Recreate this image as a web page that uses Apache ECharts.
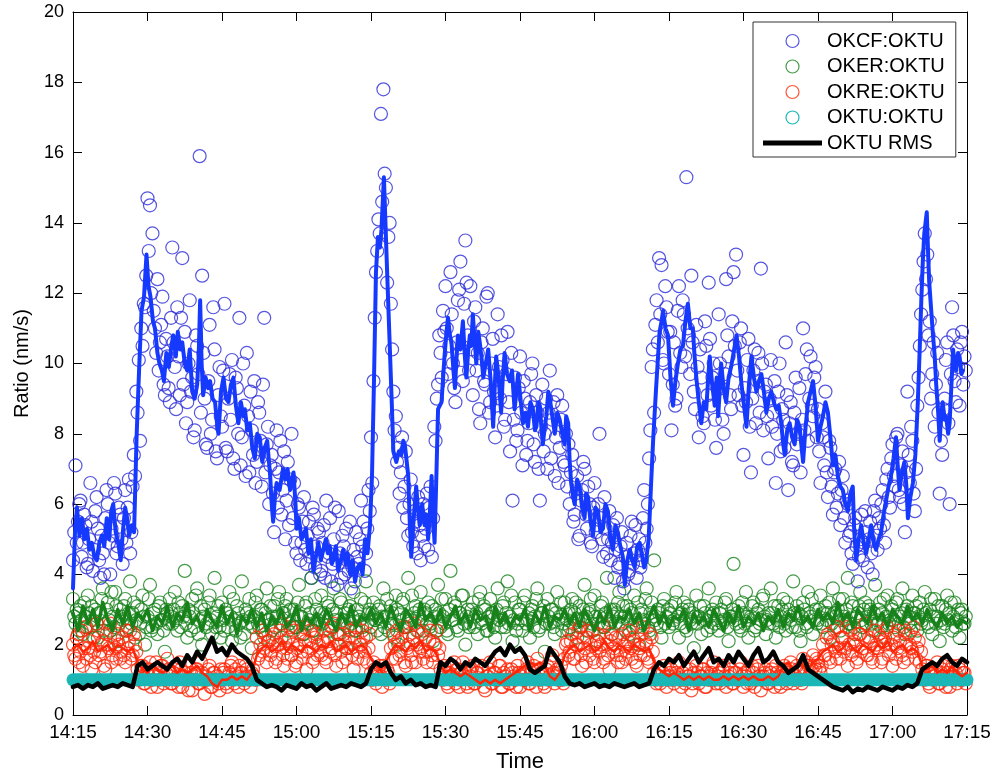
<!DOCTYPE html>
<html>
<head>
<meta charset="utf-8">
<title>OKTU ratios</title>
<script src="https://cdn.jsdelivr.net/npm/echarts@6/dist/echarts.min.js"></script>
<style>
  html, body { margin: 0; padding: 0; background: #fff; }
  #chart { width: 990px; height: 778px; }
</style>
</head>
<body>
<div id="chart"></div>
<script>
// x values are minutes after 14:15; circle samples come in rows of 10 minutes each
var ROW_MINUTES = 10;
var xTickLabels = ['14:15', '14:30', '14:45', '15:00', '15:15', '15:30', '15:45', '16:00', '16:15', '16:30', '16:45', '17:00', '17:15'];

// OKCF:OKTU ratio samples (one row per 10 minutes)
var okcfRatio = [
  [4.4,5.2,7.1,4.9,5.5,6.0,6.1,4.5,4.9,5.7,5.4,4.2,4.3,5.0,6.6,5.5,4.1,4.7,5.8,6.2,5.3,4.4,3.9,5.1,4.6,4.0,5.6,6.4,6.0,4.9,4.0,5.3,5.1,6.6,6.3,4.6,4.8,5.9,5.7,5.0],
  [4.3,5.6,6.4,4.9,5.9,6.7,4.6,5.2,6.5,7.4,6.8,9.2,8.6,10.1,7.8,11.0,10.5,11.7,11.6,12.5,14.7,13.2,14.5,12.0,13.7,11.5,11.0,10.3,12.4,9.8,10.6,11.1,11.9,9.4,9.1,10.7,10.2,9.3,8.9,11.3],
  [13.3,10.6,9.9,8.7,11.6,10.2,9.1,11.3,13.0,9.4,10.9,8.3,8.9,10.0,11.8,9.2,9.6,7.9,8.1,10.8,10.5,9.7,15.9,8.6,12.5,10.3,9.0,7.7,7.6,9.5,11.1,8.0,8.4,11.6,10.4,7.5,7.3,9.1,9.9,8.5],
  [8.2,9.8,11.7,7.6,7.5,9.0,9.7,8.4,10.1,7.3,7.0,9.6,9.3,8.0,11.3,7.1,7.9,10.0,8.8,6.8,10.3,8.5,6.9,9.2,8.1,7.4,9.5,6.6,7.2,8.9,8.6,7.8,6.5,9.4,11.3,6.9,7.7,8.2,6.0,7.1],
  [7.4,6.3,5.2,7.0,8.1,5.9,6.9,7.8,5.7,6.4,7.5,5.0,6.1,7.2,5.4,6.7,8.0,5.6,6.6,4.9,4.6,6.0,5.9,4.4,4.9,5.5,6.2,4.7,4.3,5.1,5.5,4.5,3.9,5.9,5.7,4.2,4.8,5.3,5.2,4.0],
  [4.1,4.9,5.4,3.9,6.1,4.5,4.6,5.6,3.8,4.3,5.0,5.9,4.4,3.7,5.8,4.6,3.9,5.1,4.8,4.0,5.3,4.4,4.1,5.5,3.6,4.2,4.7,3.8,5.2,4.5,4.3,5.0,6.1,4.8,5.5,4.1,4.6,5.3,6.4,5.8],
  [7.9,6.6,9.5,11.3,12.6,13.2,14.1,13.7,17.1,14.6,17.8,15.4,15.0,12.3,13.6,14.0,11.7,10.4,9.2,8.1,8.5,7.2,7.6,6.3,6.9,7.9,5.9,6.5,7.5,5.6,5.1,6.0,6.7,5.2,4.8,5.8,5.5,4.6,6.2,5.4],
  [4.4,5.1,6.0,4.8,5.3,6.3,4.7,5.9,6.5,4.5,5.6,8.2,7.8,9.0,9.4,10.8,10.3,9.6,11.5,10.9,12.2,11.0,9.7,10.5,12.6,11.4,10.0,9.3,8.9,10.6,11.8,12.1,12.9,10.1,9.5,11.7,13.5,12.3,10.8,9.8],
  [12.2,10.4,9.1,11.2,11.6,9.8,10.3,8.7,8.3,10.6,11.0,9.5,9.4,11.9,12.0,8.6,8.9,10.0,10.7,9.2,7.9,8.8,11.4,9.9,9.0,10.8,10.1,8.2,8.4,9.7,10.9,8.9,7.5,10.3,6.1,8.4,9.6,7.8,8.1,9.3],
  [10.2,8.6,7.1,9.5,9.0,7.4,7.8,8.3,8.9,9.7,10.0,7.7,7.2,9.1,8.6,7.0,6.1,8.2,9.4,7.5,8.0,9.0,7.0,8.6,9.8,7.3,8.4,8.9,6.8,7.9,9.1,6.6,7.6,8.4,8.8,7.2,7.1,8.0,6.5,7.7],
  [6.0,6.9,7.4,5.5,5.7,6.3,6.8,5.0,5.1,6.1,6.4,7.2,7.0,5.7,5.3,6.5,6.0,4.9,4.8,5.9,6.6,5.2,5.4,6.0,8.0,5.6,5.0,4.5,6.2,5.3,4.6,5.0,5.8,4.4,4.9,5.4,3.9,4.7,5.6,4.2],
  [4.3,4.8,5.2,3.8,3.6,4.5,4.9,4.0,4.1,5.1,5.5,4.3,4.6,5.4,3.9,4.7,5.0,4.2,4.4,5.6,6.4,4.9,5.3,6.0,7.3,8.1,9.9,10.4,8.6,11.1,11.8,10.6,13.0,11.4,12.8,10.1,10.0,12.2,11.6,10.9],
  [9.7,10.9,8.1,9.4,10.6,8.8,9.0,11.5,12.2,10.3,9.9,11.8,11.4,10.2,15.3,11.0,10.8,9.7,12.5,10.6,9.2,8.7,11.1,9.9,7.9,10.4,9.6,8.5,8.3,11.2,10.5,9.1,12.3,10.7,8.8,9.6,10.0,8.4,7.6,9.3],
  [11.4,10.0,9.3,8.4,8.0,9.7,12.4,10.8,10.2,9.1,8.7,11.2,12.6,10.5,13.1,9.8,9.1,10.6,11.0,8.8,7.4,9.3,8.9,10.1,10.7,8.2,6.9,9.0,9.8,10.4,8.3,9.5,10.3,8.6,12.7,10.0,8.1,9.2,9.4,8.5],
  [7.3,9.0,10.1,8.2,8.6,9.5,6.6,8.0,9.2,10.0,7.5,8.7,8.4,7.6,10.6,9.1,6.4,8.3,8.9,7.2,7.1,8.6,9.6,7.7,8.0,9.3,6.9,8.4,11.0,8.1,9.7,10.4,7.8,9.0,10.2,8.8,8.5,9.6,9.9,7.9],
  [8.7,7.5,6.6,8.3,7.9,7.1,9.2,6.9,6.2,7.8,7.6,6.5,5.7,6.9,7.0,5.9,6.3,7.2,5.4,6.4,6.8,5.6,4.9,6.1,6.0,5.1,5.2,4.6,4.3,5.4,5.6,4.8,3.8,4.5,5.0,5.7,4.4,4.9,5.8,5.2],
  [4.2,5.0,5.5,4.6,4.0,5.8,6.1,5.1,4.7,5.6,5.3,6.0,6.4,5.4,4.9,6.7,7.0,6.2,5.9,7.3,7.7,6.8,6.5,7.9,8.0,6.4,6.2,7.1,7.5,6.0,5.2,6.9,9.2,7.4,6.6,8.2,7.8,6.3,5.8,7.0],
  [8.8,9.6,10.5,11.4,12.1,12.9,13.7,12.4,13.1,10.8,11.2,9.0,9.7,10.6,8.2,9.4,10.3,8.6,6.3,7.8,7.4,8.7,9.0,10.1,10.6,8.3,6.0,9.7,11.6,10.8,9.5,8.9,10.4,9.9,8.8,10.6,10.9,9.4,10.2,9.8]
];

// OKER:OKTU ratio samples
var okerRatio = [
  [3.3,2.8,2.6,3.0,2.9,2.4,3.1,2.7,2.3,3.2,2.8,2.5,3.4,2.9,2.5,3.1,2.7,2.2,3.0,2.6,2.2,2.9,2.9,3.3,3.6,2.4,2.6,3.0,3.2,2.7,2.4,3.5,2.8,2.5,3.5,3.1,2.1,2.6,3.0,2.8],
  [2.7,3.1,3.3,2.4,2.5,2.9,3.8,2.6,2.9,3.2,2.2,2.7,3.1,2.3,2.6,3.0,3.4,2.8,2.0,2.5,2.8,3.3,3.7,2.4,2.5,2.9,3.0,2.6,2.3,3.1,3.2,2.7,2.7,2.4,1.8,3.0,2.9,2.6,3.3,2.8],
  [2.6,3.0,3.5,2.7,2.4,3.2,2.9,2.5,3.1,2.8,4.1,2.6,2.2,3.0,2.8,2.4,3.3,2.9,2.5,3.4,3.6,2.3,2.7,3.1,2.0,2.8,3.0,2.5,2.6,3.2,3.4,2.7,2.3,2.9,3.9,2.5,2.8,3.1,2.5,2.2],
  [3.2,2.7,2.4,3.0,2.9,2.5,3.5,2.8,2.1,3.3,2.7,2.4,3.1,2.9,2.6,2.2,3.8,2.7,2.3,3.0,2.9,2.6,3.3,2.8,1.9,2.5,2.8,3.2,3.4,2.6,2.5,3.0,3.0,2.4,2.2,2.9,3.6,2.7,2.7,3.1],
  [2.4,2.8,3.1,2.5,2.8,3.3,3.5,2.6,2.2,2.9,2.9,3.1,3.3,2.4,2.6,3.0,1.7,2.7,3.0,2.5,2.5,3.2,3.7,2.8,2.8,2.3,2.3,3.1,3.2,2.6,2.7,2.9,3.9,2.4,2.4,3.3,3.0,2.7,2.6,2.9],
  [3.4,2.6,2.1,2.9,2.8,3.2,3.1,2.4,2.5,3.0,3.6,2.7,2.9,2.3,2.3,3.3,3.2,2.6,2.7,2.9,1.9,2.5,3.0,3.1,2.6,2.8,3.5,2.4,2.4,3.0,2.8,2.7,3.3,2.5,2.2,3.2,3.8,2.6,2.9,3.0],
  [2.5,2.9,3.2,2.7,2.7,2.4,3.0,3.1,2.3,2.8,3.6,2.5,2.8,3.3,2.4,2.6,3.1,2.9,2.6,2.2,3.4,3.0,2.0,2.7,2.9,3.2,3.3,2.5,2.5,2.8,3.9,2.6,2.7,3.4,2.2,2.9,3.1,2.4,2.8,3.0],
  [3.5,2.7,2.4,3.0,2.9,2.6,3.2,2.5,2.6,3.1,2.1,2.8,3.0,2.4,3.7,2.9,2.5,3.3,2.8,2.6,3.3,2.4,2.3,3.0,4.1,2.7,2.7,3.2,3.1,2.5,2.4,2.9,2.9,3.4,3.4,2.6,2.0,2.8,3.0,2.5],
  [2.6,3.0,3.2,2.5,2.8,2.9,2.3,3.3,3.5,2.6,2.7,3.1,3.0,2.4,2.4,2.8,3.3,2.9,2.9,2.5,2.2,3.0,3.6,2.7,2.7,2.5,3.1,3.2,2.5,2.9,3.8,2.6,2.8,3.4,2.1,2.7,3.2,2.4,2.6,3.0],
  [3.0,2.7,2.4,3.2,3.4,2.6,2.7,2.9,2.2,3.0,3.1,2.5,2.8,3.3,3.6,2.4,2.5,2.9,2.9,3.1,1.8,2.6,3.3,2.8,2.6,3.0,3.0,2.5,2.3,2.9,3.5,2.7,2.8,3.2,2.4,2.6,3.2,2.9,2.7,2.4],
  [2.5,3.0,3.3,2.6,2.9,3.2,2.2,2.7,3.1,2.5,2.7,3.0,3.7,2.8,2.4,2.9,3.0,3.3,2.6,2.4,3.4,2.8,2.1,2.6,2.8,3.1,3.2,2.5,2.5,2.9,3.9,2.6,2.7,3.0,2.3,2.8,3.0,2.6,2.9,3.2],
  [3.5,2.8,2.6,3.1,2.8,2.4,3.1,2.7,2.3,3.0,2.9,2.5,3.4,2.7,2.5,3.2,2.0,2.9,3.0,2.6,2.7,3.3,3.6,2.5,2.4,2.9,3.2,2.8,4.4,2.7,2.6,3.0,2.9,2.5,2.2,3.1,3.3,2.6,2.8,3.0],
  [2.5,2.9,3.1,2.6,2.7,3.2,3.5,2.8,2.2,2.6,2.9,3.0,3.2,2.5,2.4,3.1,3.0,2.7,2.6,2.9,1.9,2.8,3.4,2.6,2.8,3.1,2.3,2.7,3.1,2.9,2.7,2.4,3.6,2.8,2.5,3.0,2.9,2.6,3.2,2.7],
  [2.4,2.9,3.0,2.6,2.7,3.2,3.3,2.5,2.1,2.8,2.8,3.0,4.3,2.7,2.6,2.9,3.1,2.5,2.4,3.2,2.9,2.6,3.5,2.8,2.2,2.7,2.8,3.1,3.2,2.4,2.5,2.9,3.0,2.6,2.7,3.3,3.4,2.8,2.3,2.7],
  [2.9,2.6,3.6,2.9,2.6,3.1,2.2,2.7,3.1,2.5,2.8,3.0,3.3,2.6,2.4,3.2,3.0,2.8,2.7,2.5,3.8,2.9,2.5,3.1,2.9,2.4,2.1,2.8,3.2,3.0,2.6,2.5,3.5,2.9,2.8,3.3,2.3,2.7,3.0,2.6],
  [2.7,3.0,3.4,2.6,2.5,2.9,3.1,2.7,2.9,3.2,2.2,2.6,3.6,2.9,2.8,2.5,3.0,3.3,2.4,2.7,3.3,2.8,2.7,3.0,3.9,2.6,2.6,3.2,3.1,2.5,2.3,2.8,2.9,3.1,3.5,2.7,2.5,3.0,3.2,2.6],
  [2.8,3.1,3.0,2.6,2.4,2.9,3.7,2.7,2.6,3.0,3.2,2.5,2.9,3.3,2.2,2.8,3.4,2.6,2.7,3.1,3.0,2.7,2.5,3.2,3.3,2.6,2.8,2.9,3.6,2.5,2.3,3.0,3.1,2.8,2.6,2.4,3.4,2.9,2.9,3.1],
  [2.4,2.8,3.2,2.6,2.7,3.0,3.5,2.9,2.6,2.5,3.0,3.3,2.3,2.8,3.3,2.6,2.8,3.1,2.1,2.7,3.1,2.5,2.6,3.0,3.4,2.7,2.9,3.2,2.4,2.8,3.2,2.5,2.7,3.0,2.2,2.9,3.0,2.6,2.6,2.8]
];

// OKRE:OKTU ratio samples
var okreRatio = [
  [2.0,1.7,1.6,2.2,2.3,1.5,1.8,2.4,1.4,1.9,2.5,1.6,1.9,2.1,1.7,1.3,2.2,1.8,1.5,2.6,2.4,1.7,1.8,2.0,2.1,1.4,1.3,2.3,2.0,1.9,2.6,1.5,1.7,2.2,1.9,1.6,2.3,2.0,1.6,1.8],
  [2.2,1.7,1.5,2.4,1.9,2.1,2.4,1.6,1.7,2.3,2.0,1.8,1.3,1.0,1.1,1.4,1.4,0.9,0.9,1.2,1.2,1.3,1.5,0.8,1.0,1.1,1.3,1.5,0.8,1.0,1.2,1.4,1.4,0.9,1.0,1.2,1.6,1.3,1.1,0.9],
  [0.9,1.2,1.3,1.0,1.1,0.8,1.5,1.3,0.8,1.1,1.2,1.4,1.0,0.7,1.4,1.2,0.7,1.0,1.1,1.3,1.3,0.9,0.9,1.5,1.2,1.0,0.6,1.1,1.0,1.3,1.4,0.8,0.8,1.2,1.2,1.0,1.1,0.9,0.7,1.3],
  [1.0,1.2,1.3,0.9,0.8,1.1,1.2,1.4,1.5,1.0,0.9,1.3,1.1,0.8,1.4,1.2,1.2,1.0,0.9,1.4,1.3,1.1,1.0,0.8,1.2,1.3,1.1,1.0,2.2,1.6,1.7,2.0,2.4,1.8,1.9,2.3,1.5,2.1,2.1,1.7],
  [1.8,2.2,2.3,1.5,1.6,2.0,2.0,2.4,2.6,1.7,1.4,2.1,1.9,1.6,2.2,2.5,1.7,2.0,2.4,1.4,1.5,1.9,2.0,2.3,1.8,1.6,2.5,2.1,1.3,1.8,2.1,2.4,1.9,1.5,1.6,2.2,2.3,1.7,2.0,1.8],
  [1.7,2.1,2.4,1.6,1.5,2.2,2.1,1.8,1.9,2.5,2.6,1.7,1.4,2.0,2.0,2.3,1.8,1.5,2.3,2.1,1.6,1.9,2.2,2.4,1.9,1.7,1.3,2.2,2.5,1.6,1.8,2.0,2.0,2.4,1.6,1.8,2.2,1.5,1.9,2.3],
  [1.2,1.0,1.5,1.3,0.9,1.1,1.3,1.4,1.1,0.8,1.4,1.2,1.0,1.3,1.2,0.9,1.9,1.6,2.3,2.0,1.6,2.4,2.1,1.7,1.8,2.2,2.5,1.5,1.4,1.9,2.0,2.3,1.7,1.5,2.2,2.6,1.5,2.0,2.4,1.8],
  [1.9,2.3,1.6,1.8,2.2,1.5,1.8,2.1,2.4,1.7,1.5,2.0,2.0,2.4,1.7,1.9,1.3,1.1,1.0,1.4,1.2,0.9,0.8,1.2,1.4,1.0,1.1,1.5,0.9,1.3,1.3,0.8,1.0,1.2,1.5,1.1,1.2,0.9,0.8,1.3],
  [1.1,1.3,1.4,0.9,0.9,1.2,1.2,1.0,1.0,1.4,1.3,0.8,0.7,1.1,1.1,1.3,1.5,0.9,0.9,1.2,1.2,1.0,1.0,1.4,1.4,0.8,0.8,1.2,1.1,1.0,1.3,0.9,0.9,1.3,1.2,1.1,1.0,0.8,1.4,1.2],
  [0.8,1.1,1.2,1.0,1.0,1.3,1.5,0.9,0.9,1.2,1.3,1.4,1.1,0.8,1.6,1.3,1.0,1.2,1.2,0.9,0.8,1.3,1.4,1.0,1.1,1.5,1.7,1.2,0.9,1.1,1.3,1.0,1.2,1.4,1.0,0.9,1.6,2.0,2.1,1.7],
  [1.8,2.1,2.3,1.6,1.6,2.0,2.0,2.4,2.5,1.7,1.4,2.2,1.9,1.5,2.2,2.4,1.7,2.0,2.4,1.6,1.5,1.9,2.1,2.3,1.8,2.0,2.6,1.5,1.6,2.2,2.0,1.7,1.3,2.1,2.3,1.8,1.9,2.2,1.7,1.5],
  [2.2,1.7,1.5,2.3,2.0,1.6,1.8,2.1,2.4,1.9,1.6,2.2,2.1,1.5,1.4,2.0,1.9,1.7,2.3,2.5,1.7,2.1,2.0,1.6,1.5,2.3,2.2,1.8,1.2,1.0,0.9,1.3,1.3,0.9,1.0,1.2,1.4,1.1,0.8,1.0],
  [1.1,1.2,1.3,1.0,0.9,1.1,1.2,1.4,1.5,1.0,0.8,1.2,1.0,0.9,1.3,1.1,1.1,1.3,0.7,0.9,1.2,1.0,1.4,1.2,0.9,1.1,1.1,1.3,1.3,0.8,0.8,1.2,1.0,1.1,1.2,1.4,1.5,1.0,0.9,1.1],
  [1.2,0.9,1.0,1.3,1.4,1.1,0.8,1.0,1.1,1.2,1.3,0.9,0.9,1.2,1.2,1.0,1.0,1.3,1.5,1.1,0.8,1.2,1.1,0.9,1.3,1.0,0.9,1.4,1.2,0.8,1.0,1.3,1.4,1.1,0.7,1.0,1.1,1.2,1.3,0.9],
  [0.9,1.1,1.2,1.3,1.0,0.8,1.4,1.2,1.1,0.9,0.8,1.2,1.3,1.4,1.0,0.9,1.2,1.1,1.5,1.3,0.9,1.0,1.1,1.4,1.3,1.2,1.0,0.9,1.6,1.3,1.2,1.5,1.4,1.1,1.1,1.3,1.7,1.4,1.3,1.6],
  [1.5,1.3,1.2,1.4,2.0,1.7,1.7,2.2,2.3,1.6,1.5,2.0,2.1,2.4,1.8,1.6,2.5,1.9,1.6,2.2,2.2,1.8,1.9,2.5,1.4,2.0,2.4,1.7,1.8,2.1,2.0,1.5,1.6,2.3,2.3,1.8,1.9,2.2,2.6,1.7],
  [1.7,2.2,2.1,1.6,1.5,1.9,2.4,2.0,1.9,2.3,2.2,1.5,1.6,2.1,2.0,2.4,2.5,1.7,1.8,2.0,1.4,2.2,2.3,1.6,1.9,2.4,2.1,1.8,1.7,1.5,2.4,2.0,1.6,2.3,2.0,1.9,1.8,2.5,2.2,1.6],
  [1.9,2.1,1.5,1.8,1.3,1.1,1.0,1.4,1.4,0.9,0.8,1.2,1.2,1.0,1.1,1.3,1.5,0.9,0.9,1.2,1.3,1.4,1.0,0.8,1.2,1.1,0.8,1.3,1.4,1.0,1.1,1.2,0.9,1.4,1.3,1.0,1.0,1.2,1.2,0.9]
];

// OKTU:OKTU is 1 by definition, start and end of the record
var oktuTimes = [0, 180];
var oktuRatio = [1, 1];

// smoothed OKCF:OKTU trace, [minute, ratio]
var okcfTrace = [
  [0,3.6],[0.4,5.2],[0.8,5.9],[1.3,5.1],[1.8,5.6],[2.3,5.0],[2.8,5.3],[3.3,4.7],[3.8,4.9],[4.3,4.5],
  [4.8,4.4],[5.3,4.9],[5.8,5.1],[6.3,4.8],[6.8,5.6],[7.3,5.0],[7.7,5.8],[8.1,6.0],[8.6,5.2],[9.1,4.9],
  [9.6,4.4],[10.1,5.3],[10.5,5.9],[10.9,5.6],[11.3,5.1],[11.8,5.4],[12.3,5.2],[12.8,7.9],[13.3,9.8],[13.8,11.5],
  [14.3,11.9],[14.8,13.1],[15.2,12.2],[15.6,11.9],[16.1,11.2],[16.5,11.0],[17.0,10.3],[17.4,10.0],[17.9,9.8],[18.3,9.5],
  [18.8,10.3],[19.3,9.9],[19.8,10.5],[20.2,10.8],[20.7,10.2],[21.1,10.9],[21.6,10.4],[22.0,10.6],[22.5,10.0],[23.0,9.8],
  [23.5,10.4],[24.0,9.2],[24.5,9.0],[25.0,9.4],[25.3,10.2],[25.6,11.8],[25.9,10.0],[26.2,9.1],[26.7,9.6],[27.2,9.3],
  [27.6,9.5],[28.1,9.0],[28.6,8.9],[29.0,8.3],[29.3,8.0],[29.8,9.2],[30.3,9.6],[30.8,9.0],[31.3,8.9],[31.8,9.4],
  [32.3,9.6],[32.8,8.8],[33.3,8.3],[33.8,8.9],[34.3,8.5],[34.6,8.7],[35.1,8.1],[35.6,8.3],[36.1,7.6],[36.6,7.3],
  [37.1,8.0],[37.6,7.9],[38.1,7.2],[38.6,7.6],[39.1,7.8],[39.7,6.8],[40.0,6.0],[40.3,5.5],[40.7,6.3],[41.0,6.6],
  [41.6,6.4],[42.3,7.0],[42.8,6.7],[43.2,7.0],[43.7,6.4],[44.1,6.7],[44.4,6.9],[44.8,6.0],[45.0,5.3],[45.5,5.6],
  [46.0,5.0],[46.4,5.1],[46.9,5.3],[47.4,4.6],[47.9,5.0],[48.4,4.1],[48.9,4.5],[49.4,4.9],[49.9,4.4],[50.4,4.7],
  [50.9,5.0],[51.3,4.6],[51.7,4.8],[52.1,4.3],[52.4,4.4],[52.9,4.8],[53.4,4.1],[53.9,4.4],[54.4,4.7],[54.9,4.3],
  [55.3,4.6],[55.8,4.0],[56.3,4.4],[56.8,3.8],[57.3,4.2],[57.8,4.3],[58.3,4.0],[58.8,5.0],[59.3,4.6],[59.8,5.4],
  [60.2,6.8],[60.6,9.5],[61.0,12.6],[61.4,13.6],[61.8,13.3],[62.1,13.8],[62.6,15.3],[63.1,13.2],[63.4,12.0],[63.8,10.4],
  [64.2,8.8],[64.5,7.5],[65.1,7.2],[65.6,7.5],[66.1,7.4],[66.5,7.8],[66.8,7.7],[67.2,7.2],[67.5,6.8],[67.8,5.5],
  [68.1,4.5],[68.6,5.6],[69.1,6.5],[69.5,5.8],[69.8,5.4],[70.3,6.0],[70.8,5.4],[71.2,5.7],[71.5,5.0],[71.8,5.6],
  [72.2,6.8],[72.5,5.6],[72.8,4.9],[73.2,7.0],[73.5,8.7],[74.2,8.9],[74.8,10.2],[75.2,10.9],[75.5,11.3],[75.9,10.8],
  [76.2,10.6],[76.6,9.8],[76.9,9.3],[77.2,10.1],[77.5,10.8],[78.0,10.4],[78.5,11.2],[78.9,10.2],[79.2,9.6],[79.6,10.4],
  [79.9,10.8],[80.2,10.5],[80.5,11.4],[80.9,10.6],[81.2,10.0],[81.6,10.9],[81.9,10.6],[82.3,10.1],[82.6,9.6],[83.1,10.0],
  [83.6,10.4],[84.1,9.5],[84.6,8.2],[84.9,9.3],[85.2,10.2],[85.7,9.6],[86.2,8.6],[86.5,9.5],[86.9,10.3],[87.4,9.7],
  [87.9,9.5],[88.4,9.8],[88.9,8.7],[89.3,9.2],[89.6,9.7],[90.1,9.0],[90.6,8.3],[91.1,8.6],[91.6,8.2],[92.1,8.9],
  [92.6,8.7],[93.0,8.1],[93.3,8.2],[93.7,8.9],[94.0,8.8],[94.3,8.2],[94.6,7.7],[95.0,8.2],[95.3,8.5],[95.7,9.2],
  [96.0,9.0],[96.5,8.5],[97.0,8.0],[97.5,8.6],[98.0,8.4],[98.5,8.0],[99.0,7.7],[99.3,8.5],[99.7,8.3],[100.0,7.2],
  [100.3,6.6],[100.7,6.2],[101.0,6.0],[101.5,6.7],[102.0,6.5],[102.5,5.9],[103.0,5.6],[103.3,6.3],[103.7,6.2],[104.2,5.5],
  [104.7,5.1],[105.2,5.9],[105.7,5.8],[106.2,5.2],[106.7,5.3],[107.2,6.0],[107.7,5.8],[108.2,5.0],[108.7,4.7],[109.2,5.4],
  [109.7,5.2],[110.2,4.8],[110.7,4.5],[111.1,3.7],[111.6,4.4],[112.1,4.7],[112.6,4.4],[113.1,4.2],[113.6,4.8],[114.1,4.9],
  [114.6,4.5],[115.0,4.2],[115.4,4.4],[115.9,5.0],[116.4,6.6],[116.8,7.8],[117.4,9.3],[117.8,10.2],[118.1,10.9],[118.5,11.2],
  [118.8,11.5],[119.3,11.0],[119.8,10.8],[120.3,9.6],[120.8,8.8],[121.3,9.5],[121.8,10.0],[122.3,10.4],[122.8,10.5],[123.3,11.2],
  [123.8,11.7],[124.3,11.0],[124.8,11.0],[125.1,10.3],[125.5,9.6],[126.0,8.9],[126.5,8.3],[127.0,8.9],[127.5,8.7],[127.9,9.6],
  [128.2,10.2],[128.7,9.4],[129.2,8.8],[129.6,9.6],[129.9,8.5],[130.2,9.2],[130.5,10.0],[131.0,9.3],[131.5,8.9],[132.0,9.6],
  [132.5,9.9],[133.0,10.3],[133.6,10.8],[134.1,10.2],[134.6,9.4],[135.1,8.8],[135.6,8.2],[136.1,9.4],[136.6,10.2],[137.1,9.6],
  [137.6,9.2],[138.1,9.5],[138.6,9.7],[139.1,9.2],[139.6,8.6],[140.1,9.0],[140.6,9.2],[141.1,8.9],[141.6,8.7],[142.1,8.8],
  [142.6,8.3],[143.0,7.7],[143.3,7.4],[143.8,8.1],[144.3,8.3],[144.8,7.9],[145.3,7.7],[145.8,8.4],[146.3,8.2],[146.7,7.6],
  [147.0,7.2],[147.5,8.2],[148.0,8.9],[148.5,9.2],[149.0,9.5],[149.5,8.8],[150.0,7.8],[150.5,8.2],[151.0,8.5],[151.5,8.9],
  [152.0,8.6],[152.5,7.9],[153.0,7.1],[153.5,7.4],[154.0,6.8],[154.5,6.5],[155.0,6.4],[155.5,6.0],[156.0,5.8],[156.5,6.3],
  [157.0,6.5],[157.3,5.2],[157.7,4.4],[158.2,5.0],[158.7,5.4],[159.2,4.9],[159.7,4.6],[160.2,5.0],[160.7,5.4],[161.2,4.9],
  [161.7,4.7],[162.2,5.0],[162.7,5.2],[163.2,5.7],[163.7,6.1],[164.2,6.5],[164.7,6.8],[165.2,7.3],[165.7,7.9],[166.0,7.2],
  [166.4,6.4],[166.9,6.9],[167.4,7.2],[167.8,6.5],[168.1,5.6],[168.6,6.2],[169.1,6.6],[169.6,7.4],[170.1,8.9],[170.5,10.5],
  [170.8,11.8],[171.1,12.9],[171.4,13.7],[171.9,14.3],[172.2,13.0],[172.4,12.3],[172.8,11.5],[173.1,10.9],[173.5,10.2],[173.8,9.4],
  [174.2,8.6],[174.5,7.8],[174.8,8.5],[175.1,8.9],[175.5,8.4],[175.8,8.5],[176.2,8.0],[176.5,8.3],[176.9,9.5],[177.2,10.4],
  [177.5,10.0],[177.8,9.8],[178.2,10.3],[178.5,10.2],[178.9,9.7],[179.2,9.8]
];

// smoothed OKER:OKTU trace, one value per minute
var okerTrace = [
  2.9,2.4,3.1,2.6,3.0,2.5,3.2,2.7,2.4,3.0,2.6,3.1,2.5,2.9,2.7,3.0,2.4,2.8,2.6,3.1,
  2.5,2.9,2.7,3.2,2.6,2.8,2.4,3.0,2.7,2.5,3.1,2.6,2.9,2.3,2.8,2.6,3.0,2.5,2.9,2.4,
  2.8,2.6,3.0,2.5,2.7,3.1,2.4,2.8,2.6,2.9,2.5,3.0,2.7,2.4,2.9,2.6,3.1,2.5,2.8,2.7,
  3.0,2.6,2.9,2.5,3.1,2.7,2.4,3.0,2.8,2.5,3.2,2.7,2.9,2.6,3.0,2.5,2.8,3.1,2.6,2.9,
  2.5,3.0,2.7,2.8,2.4,3.1,2.6,2.9,2.5,2.8,2.7,3.0,2.4,2.9,2.6,3.1,2.5,2.8,2.7,3.0,
  2.6,2.9,2.5,3.0,2.7,2.4,2.9,2.6,3.1,2.5,2.8,2.7,3.0,2.6,2.9,2.4,2.8,3.1,2.6,2.9,
  2.5,2.8,2.7,3.0,2.4,2.9,2.6,2.8,2.5,3.0,2.7,2.4,2.9,2.6,3.1,2.5,2.8,2.6,2.9,2.4,
  2.8,2.6,3.0,2.5,2.9,2.7,3.1,2.6,2.8,2.5,3.0,2.7,2.9,2.6,3.2,2.7,2.9,2.5,3.0,2.8,
  2.6,3.1,2.7,2.9,2.5,3.0,2.8,2.6,3.1,2.7,2.9,2.6,3.0,2.7,2.5,2.9,2.6,2.8,2.5,2.7,2.6
];

// smoothed OKRE:OKTU trace, one value per minute
var okreTrace = [
  1.9,2.0,1.8,1.9,2.1,1.8,1.9,2.0,1.8,2.0,1.9,1.8,1.9,
  1.5,1.3,1.2,1.4,1.3,1.2,1.3,1.4,1.2,1.3,1.2,1.3,1.4,1.2,1.1,0.9,0.8,1.0,1.0,1.1,1.0,1.1,1.0,1.2,
  1.7,1.9,2.0,1.8,1.9,2.1,1.8,2.0,1.9,1.8,2.0,1.9,1.8,2.0,1.9,2.1,1.8,1.9,2.0,1.8,1.9,2.0,1.9,
  1.6,1.4,1.3,1.5,
  1.8,2.0,1.9,1.8,2.0,1.9,2.1,1.8,1.9,1.8,
  1.4,1.2,1.3,1.2,1.1,1.2,1.1,1.0,0.9,1.0,0.9,1.0,0.9,1.0,1.1,1.2,1.3,1.4,1.5,1.4,1.5,1.4,1.1,1.0,1.2,
  1.7,1.9,2.0,1.8,1.9,2.0,1.8,1.9,2.1,1.9,1.8,2.0,1.9,1.8,2.0,1.9,1.8,1.9,
  1.5,1.3,1.2,1.1,1.2,1.1,1.0,1.1,1.0,1.1,1.0,1.1,1.0,1.0,1.1,1.0,1.1,1.0,1.1,1.0,1.1,1.0,1.0,1.1,1.0,1.1,1.4,1.5,1.3,1.5,1.4,1.3,1.5,1.6,
  1.8,1.9,2.0,1.8,1.9,2.1,1.9,1.8,2.0,1.9,1.8,2.0,1.9,2.1,1.8,1.9,2.0,1.8,1.9,1.8,
  1.4,1.3,1.4,1.2,1.3,1.2,1.4,1.2,1.1,1.2
];

// OKTU RMS, one value per minute
var oktuRms = [
  0.8,0.85,0.75,0.85,0.8,0.9,0.75,0.8,0.85,0.8,0.9,0.85,0.8,
  1.4,1.5,1.3,1.4,1.5,1.4,1.3,1.5,1.6,1.4,1.7,1.5,1.8,1.6,1.9,2.2,1.8,1.9,1.7,2.0,1.8,1.7,1.6,1.4,
  1.0,0.9,0.8,0.85,0.8,0.7,0.85,0.8,0.75,0.9,0.8,0.85,0.7,0.8,0.9,0.75,0.8,0.85,0.8,0.9,0.85,0.8,0.9,
  1.3,1.5,1.4,1.5,
  1.2,1.0,1.1,0.9,1.0,0.85,0.9,0.8,0.85,0.8,
  1.5,1.4,1.6,1.5,1.3,1.5,1.4,1.6,1.5,1.4,1.6,1.8,1.9,1.7,2.0,1.8,1.9,1.7,1.3,1.2,1.3,1.4,1.9,1.7,1.5,
  1.1,0.9,0.85,0.9,0.8,0.85,0.9,0.8,0.85,0.8,0.9,0.85,0.8,0.85,0.9,0.8,0.85,0.9,
  1.3,1.5,1.4,1.6,1.5,1.7,1.4,1.6,1.8,1.5,1.7,1.9,1.5,1.6,1.4,1.7,1.5,1.8,1.6,1.4,1.7,1.9,1.5,1.6,1.8,1.5,1.4,1.2,1.3,1.4,1.7,1.3,1.2,1.1,
  1.0,0.9,0.8,0.75,0.7,0.8,0.65,0.75,0.7,0.8,0.75,0.7,0.8,0.75,0.7,0.8,0.75,0.85,0.8,0.9,
  1.3,1.4,1.5,1.4,1.6,1.7,1.5,1.4,1.6,1.5
];

var FONT = '"Liberation Sans", Arial, Helvetica, sans-serif';
var BLUE = '#2a2ad8', BLUE_LINE = '#1639ff', GREEN = '#17821a', RED = '#ff2608', CYAN = '#1bb7b7';

// each row covers ROW_MINUTES, its samples are evenly spaced inside it
function sampled(rows) {
  var out = [];
  rows.forEach(function (row, r) {
    var step = ROW_MINUTES / row.length;
    row.forEach(function (v, j) { out.push([r * ROW_MINUTES + j * step, v]); });
  });
  return out;
}
function perMinute(values) {
  return values.map(function (v, i) { return [i, v]; });
}
function circles(name, rows, color) {
  return {
    name: name, type: 'scatter', symbol: 'circle', symbolSize: 13, clip: false, z: 2,
    itemStyle: { color: 'rgba(0,0,0,0)', borderColor: color, borderWidth: 1.2 },
    emphasis: { disabled: true },
    data: sampled(rows)
  };
}
function trace(name, data, color, width, z) {
  return {
    name: name, type: 'line', data: data, symbol: 'none', showSymbol: false, clip: false, z: z,
    lineStyle: { color: color, width: width, join: 'round', cap: 'round' },
    itemStyle: { color: color },
    emphasis: { disabled: true }
  };
}
function emptyCircleIcon(name, color) {
  return { name: name, icon: 'circle', itemStyle: { color: 'rgba(0,0,0,0)', borderColor: color, borderWidth: 1.2 } };
}

var chart = echarts.init(document.getElementById('chart'));
var axisText = { color: '#000', fontFamily: FONT };

chart.setOption({
  animation: false,
  backgroundColor: '#fff',
  textStyle: { fontFamily: FONT, color: '#000' },
  grid: { left: 73, right: 23, top: 12, bottom: 63, containLabel: false, outerBoundsMode: 'none' },
  xAxis: [{
    type: 'value', min: 0, max: 180, interval: 15,
    name: 'Time', nameLocation: 'middle', nameGap: 36,
    nameTextStyle: { fontSize: 22, color: '#000', fontFamily: FONT },
    axisLine: { show: true, onZero: false, lineStyle: { color: '#000', width: 1 } },
    axisTick: { show: true, inside: true, length: 9, lineStyle: { color: '#000' } },
    axisLabel: Object.assign({ fontSize: 19, margin: 8, formatter: function (v) { return xTickLabels[Math.round(v / 15)]; } }, axisText),
    splitLine: { show: false }
  }, {
    type: 'value', position: 'top', min: 0, max: 180, interval: 15,
    axisLine: { show: true, onZero: false, lineStyle: { color: '#000', width: 1 } },
    axisTick: { show: true, inside: true, length: 9, lineStyle: { color: '#000' } },
    axisLabel: { show: false }, splitLine: { show: false }
  }],
  yAxis: [{
    type: 'value', min: 0, max: 20, interval: 2,
    name: 'Ratio (nm/s)', nameLocation: 'middle', nameGap: 41, nameRotate: 90,
    nameTextStyle: { fontSize: 20, color: '#000', fontFamily: FONT },
    axisLine: { show: true, onZero: false, lineStyle: { color: '#000', width: 1 } },
    axisTick: { show: true, inside: true, length: 9, lineStyle: { color: '#000' } },
    axisLabel: Object.assign({ fontSize: 18, margin: 9 }, axisText),
    splitLine: { show: false }
  }, {
    type: 'value', position: 'right', min: 0, max: 20, interval: 2,
    axisLine: { show: true, onZero: false, lineStyle: { color: '#000', width: 1 } },
    axisTick: { show: true, inside: true, length: 9, lineStyle: { color: '#000' } },
    axisLabel: { show: false }, splitLine: { show: false }
  }],
  legend: {
    orient: 'vertical', left: 753, top: 22,
    backgroundColor: '#fff', borderColor: '#333', borderWidth: 1,
    padding: [9, 11, 4, 10], itemGap: 5.5, itemWidth: 59, itemHeight: 13,
    selectedMode: false,
    textStyle: { fontSize: 20, lineHeight: 20, color: '#000', fontFamily: FONT },
    data: [
      emptyCircleIcon('OKCF:OKTU', BLUE),
      emptyCircleIcon('OKER:OKTU', GREEN),
      emptyCircleIcon('OKRE:OKTU', RED),
      emptyCircleIcon('OKTU:OKTU', CYAN),
      { name: 'OKTU RMS', icon: 'path://M0 0H59V5H0Z', itemStyle: { color: '#000', borderWidth: 0 } }
    ]
  },
  series: [
    circles('OKCF:OKTU', okcfRatio, BLUE),
    circles('OKER:OKTU', okerRatio, GREEN),
    circles('OKRE:OKTU', okreRatio, RED),
    trace('OKTU:OKTU', oktuTimes.map(function (t, i) { return [t, oktuRatio[i]]; }), CYAN, 13, 3),
    trace('OKCF trace', okcfTrace, BLUE_LINE, 4, 4),
    trace('OKER trace', perMinute(okerTrace), GREEN, 3.5, 4),
    trace('OKRE trace', perMinute(okreTrace), RED, 2.5, 4),
    trace('OKTU RMS', perMinute(oktuRms), '#000', 4.5, 5)
  ]
});
</script>
</body>
</html>
